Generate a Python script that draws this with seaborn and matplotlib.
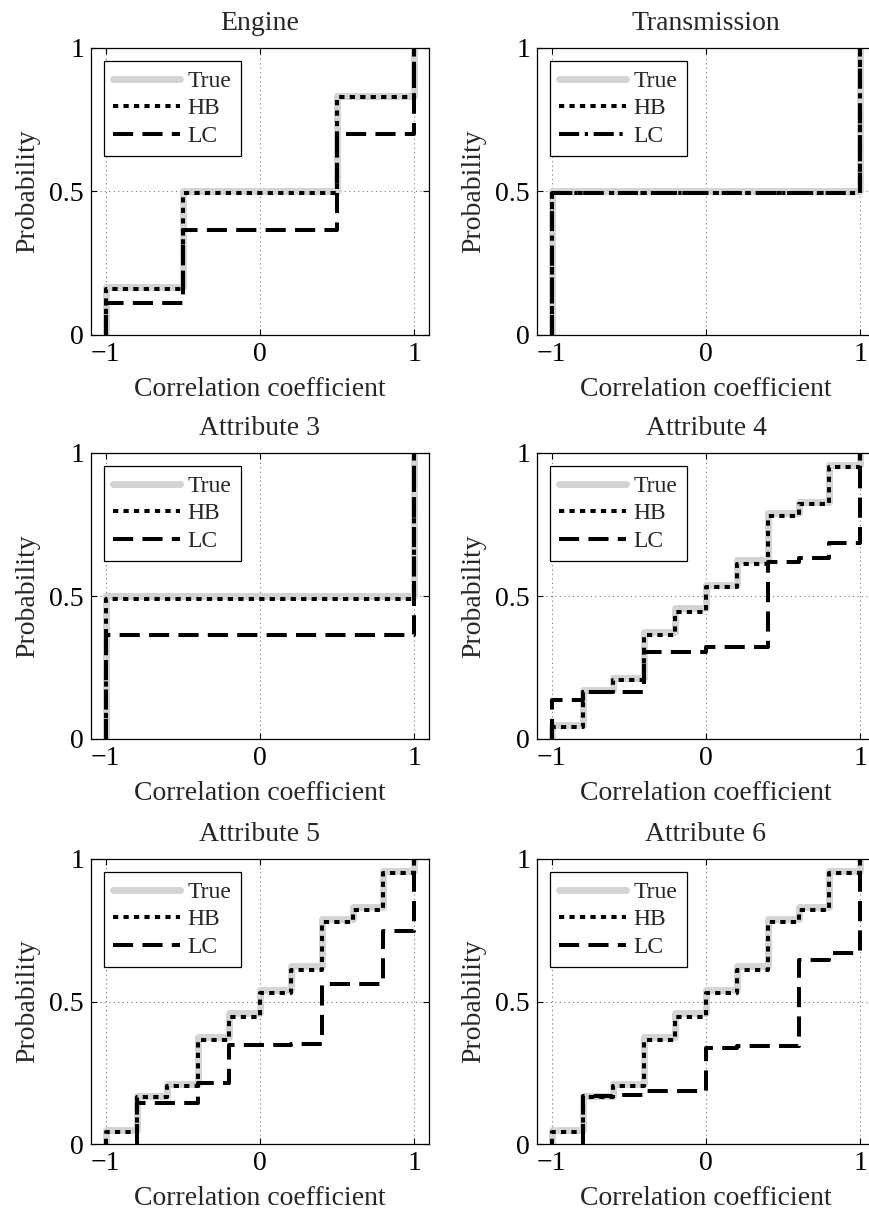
import numpy as np
import pandas as pd
import seaborn as sns
import matplotlib
matplotlib.use("Agg")
import matplotlib.pyplot as plt

sns.set_theme(style="white")
plt.rcParams["font.family"] = ["Liberation Serif", "DejaVu Serif"]
plt.rcParams["mathtext.fontset"] = "stix"

# ---------------- data ----------------
titles = ["Engine", "Transmission", "Attribute 3", "Attribute 4", "Attribute 5", "Attribute 6"]
series_names = ["True", "HB", "LC"]

x_engine = [-1.0, -0.5, 0.5, 1.0]
true_engine = [0.167, 0.50, 0.833, 1.0]
hb_engine = [0.160, 0.495, 0.828, 1.0]
lc_engine = [0.110, 0.367, 0.700, 1.0]

x_trans = [-1.0, 1.0]
true_trans = [0.50, 1.0]
hb_trans = [0.495, 1.0]
lc_trans = [0.495, 1.0]

x_attr3 = [-1.0, 1.0]
true_attr3 = [0.50, 1.0]
hb_attr3 = [0.488, 1.0]
lc_attr3 = [0.365, 1.0]

x_grid = [-1.0, -0.8, -0.6, -0.4, -0.2, 0.0, 0.2, 0.4, 0.6, 0.8, 1.0]
true_attr4 = [0.048, 0.170, 0.212, 0.375, 0.458, 0.540, 0.625, 0.790, 0.830, 0.958, 1.0]
hb_attr4 = [0.042, 0.165, 0.205, 0.365, 0.445, 0.530, 0.612, 0.778, 0.820, 0.950, 1.0]
lc_attr4 = [0.136, 0.163, 0.163, 0.305, 0.305, 0.322, 0.322, 0.620, 0.632, 0.685, 1.0]

true_attr5 = [0.048, 0.170, 0.212, 0.375, 0.458, 0.540, 0.625, 0.790, 0.830, 0.958, 1.0]
hb_attr5 = [0.042, 0.165, 0.205, 0.365, 0.445, 0.530, 0.612, 0.778, 0.820, 0.950, 1.0]
lc_attr5 = [0.0, 0.145, 0.145, 0.213, 0.347, 0.347, 0.350, 0.560, 0.560, 0.749, 1.0]

true_attr6 = [0.048, 0.170, 0.212, 0.375, 0.458, 0.540, 0.625, 0.790, 0.830, 0.958, 1.0]
hb_attr6 = [0.042, 0.165, 0.205, 0.365, 0.445, 0.530, 0.612, 0.778, 0.820, 0.950, 1.0]
lc_attr6 = [0.0, 0.170, 0.172, 0.187, 0.187, 0.336, 0.345, 0.345, 0.645, 0.670, 1.0]

panels = [
    (x_engine, true_engine, hb_engine, lc_engine),
    (x_trans, true_trans, hb_trans, lc_trans),
    (x_attr3, true_attr3, hb_attr3, lc_attr3),
    (x_grid, true_attr4, hb_attr4, lc_attr4),
    (x_grid, true_attr5, hb_attr5, lc_attr5),
    (x_grid, true_attr6, hb_attr6, lc_attr6),
]

x_ticks = [-1, 0, 1]
y_ticks = [0, 0.5, 1]
x_ticklabels = ["\u22121", "0", "1"]
y_ticklabels = ["0", "0.5", "1"]


def step_frame(xs, ys):
    """Build a step path (cumulative) starting from zero at the first jump."""
    xs = list(xs)
    ys = list(ys)
    while len(ys) > 1 and ys[0] == 0:
        xs.pop(0)
        ys.pop(0)
    return pd.DataFrame({"x": [xs[0]] + xs, "y": [0.0] + ys})


# ---------------- figure ----------------
W, H = 870, 1213
fig = plt.figure(figsize=(W / 100, H / 100), dpi=100)

col_left = [91 / W, 537 / W]
col_w = 338 / W
rows = [(48, 335), (453, 739), (859, 1144)]

styles = {
    "True": dict(color="#d4d4d4", lw=5.0, ls="-", zorder=2),
    "HB": dict(color="black", lw=2.9, ls=(0, (1.3, 1.3)), zorder=3),
    "LC": dict(color="black", lw=2.9, ls=(0, (5.0, 2.3)), zorder=4),
}
lc_dashdot = (0, (5.0, 1.4, 0.8, 1.4))

for i, (title, (xs, t, hb, lc)) in enumerate(zip(titles, panels)):
    r, c = divmod(i, 2)
    top, bot = rows[r]
    ax = fig.add_axes([col_left[c], 1 - bot / H, col_w, (bot - top) / H])

    for name, ys in zip(series_names, (t, hb, lc)):
        st = dict(styles[name])
        if name == "LC" and title == "Transmission":
            st["ls"] = lc_dashdot
        df = step_frame(xs, ys)
        sns.lineplot(data=df, x="x", y="y", ax=ax, estimator=None, sort=False,
                     drawstyle="steps-post", label=name, color=st["color"],
                     linewidth=st["lw"], linestyle=st["ls"], zorder=st["zorder"],
                     legend=False)

    ax.set_xlim(-1.095, 1.095)
    ax.set_ylim(0, 1)
    ax.set_xticks(x_ticks)
    ax.set_xticklabels(x_ticklabels)
    ax.set_yticks(y_ticks)
    ax.set_yticklabels(y_ticklabels)
    ax.tick_params(direction="in", length=4, width=0.8, labelsize=20, pad=5,
                   top=True, right=True, bottom=True, left=True, colors="black")
    ax.grid(True, color="#777777", linestyle=(0, (1, 3)), linewidth=0.8)
    for sp in ax.spines.values():
        sp.set_color("black")
        sp.set_linewidth(0.9)
        sp.set_zorder(5)
    ax.set_title(title, fontsize=20, pad=13)
    ax.set_xlabel("Correlation coefficient", fontsize=20, labelpad=7)
    ax.set_ylabel("Probability", fontsize=20, labelpad=7)

    handles = ax.get_lines()[:3]
    leg = ax.legend(handles, series_names, loc="upper left", fontsize=17,
                    frameon=True, fancybox=False, shadow=False,
                    handlelength=2.8, handletextpad=0.35, labelspacing=0.25,
                    borderpad=0.4, borderaxespad=0.55, framealpha=1)
    leg.get_frame().set_edgecolor("black")
    leg.get_frame().set_linewidth(0.9)
    leg.set_zorder(10)

fig.savefig("out.png", dpi=100, facecolor="white")
